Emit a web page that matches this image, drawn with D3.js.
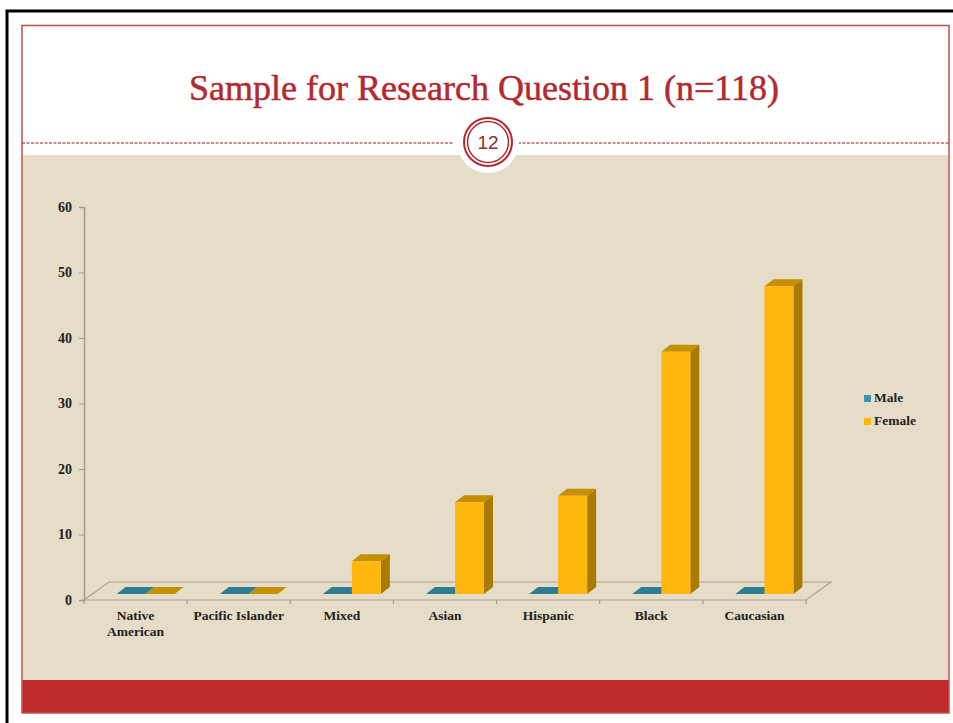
<!doctype html>
<html>
<head>
<meta charset="utf-8">
<title>Sample for Research Question 1</title>
<script src="https://d3js.org/d3.v7.min.js"></script>
<style>
  body { margin:0; background:#fff; }
  svg text { font-family:"Liberation Serif", "DejaVu Serif", serif; }
</style>
</head>
<body>
<svg id="slide" width="953" height="723"></svg>
<script>
// values
const categories = ["Native American", "Pacific Islander", "Mixed", "Asian", "Hispanic", "Black", "Caucasian"];
const male       = [0, 0, 0, 0, 0, 0, 0];
const female     = [0, 0, 5, 14, 15, 37, 47];
const yTicks     = [0, 10, 20, 30, 40, 50, 60];
const seriesNames = ["Male", "Female"];

let svg = d3.select("#slide");

// slide background pieces
svg.append("rect").attr("x", 7).attr("y", 11).attr("width", 960).attr("height", 720)
   .attr("fill", "none").attr("stroke", "#000").attr("stroke-width", 3);
svg.append("rect").attr("x", 22).attr("y", 155).attr("width", 927).attr("height", 525).attr("fill", "#e6ddc9");
svg.append("rect").attr("x", 22).attr("y", 680).attr("width", 927).attr("height", 33).attr("fill", "#c22b2e");
svg.append("rect").attr("x", 22).attr("y", 25.5).attr("width", 927).attr("height", 687.5)
   .attr("fill", "none").attr("stroke", "#c0504d").attr("stroke-width", 1.5);

svg.append("text").attr("x", 484).attr("y", 100).attr("text-anchor", "middle")
   .attr("font-size", 36).attr("fill", "#b22a2e")
   .attr("stroke", "#b22a2e").attr("stroke-width", 0.5)
   .text("Sample for Research Question 1 (n=118)");

// dashed divider + page badge
svg.append("line").attr("x1", 22).attr("x2", 454).attr("y1", 143).attr("y2", 143)
   .attr("stroke", "#8e1a1d").attr("stroke-width", 1).attr("stroke-dasharray", "3,1.5");
svg.append("line").attr("x1", 518).attr("x2", 949).attr("y1", 143).attr("y2", 143)
   .attr("stroke", "#8e1a1d").attr("stroke-width", 1).attr("stroke-dasharray", "3,1.5");
svg.append("circle").attr("cx", 488).attr("cy", 142).attr("r", 31).attr("fill", "#fff");
svg.append("circle").attr("cx", 488).attr("cy", 142).attr("r", 24).attr("fill", "none")
   .attr("stroke", "#b22a2e").attr("stroke-width", 2);
svg.append("circle").attr("cx", 488).attr("cy", 142).attr("r", 20.5).attr("fill", "none")
   .attr("stroke", "#b22a2e").attr("stroke-width", 1.5);
svg.append("text").attr("x", 488).attr("y", 149).attr("text-anchor", "middle")
   .style("font-family", "'Liberation Sans', Arial, sans-serif")
   .attr("font-size", 19).attr("fill", "#8e2a2a").text("12");

// chart
let x = d3.scaleBand().domain(categories).range([84, 806]).padding(0);
let y = d3.scaleLinear().domain([0, 60]).range([600, 207]);

let floorDx = 25, floorDy = -18;   // depth of the floor
let barDx = 9, barDy = -7;         // depth of a bar
let barShift = -6;                 // bars stand a bit back on the floor
let barW = 29;

let chart = svg.append("g");

// floor
let fl = [[x.range()[0], y(0)], [x.range()[1], y(0)],
          [x.range()[1] + floorDx, y(0) + floorDy], [x.range()[0] + floorDx, y(0) + floorDy]];
chart.append("path").attr("d", d3.line()(fl) + "Z")
     .attr("fill", "#e6ddc9").attr("stroke", "#a8a398").attr("stroke-width", 1.2);

// y axis
let yAxis = d3.axisLeft(y).tickValues(yTicks).tickSize(5).tickPadding(7);
let ga = chart.append("g").attr("transform", "translate(84,0)").call(yAxis);
ga.attr("font-size", null).attr("font-family", null);
ga.select(".domain").attr("stroke", "#a09a90").attr("stroke-width", 1.5);
ga.selectAll(".tick line").attr("stroke", "#a09a90");
ga.selectAll("text").style("font-family", "'Liberation Serif', serif")
  .style("font-size", "14px").style("font-weight", "bold").attr("fill", "#222");

// x axis ticks at band edges
let edges = categories.map(c => x(c)).concat([x.range()[1]]);
chart.selectAll(".xt").data(edges).enter().append("line")
     .attr("x1", d => d).attr("x2", d => d).attr("y1", y(0)).attr("y2", y(0) + 4)
     .attr("stroke", "#a09a90").attr("stroke-width", 1.2);

// category labels
let labels = chart.selectAll(".cat").data(categories).enter().append("text")
     .attr("x", d => x(d) + x.bandwidth() / 2).attr("y", 620)
     .attr("text-anchor", "middle").attr("font-size", 13.5).attr("font-weight", "bold").attr("fill", "#222");
labels.each(function(d) {
  let words = d === "Native American" ? ["Native", "American"] : [d];
  d3.select(this).selectAll("tspan").data(words).enter().append("tspan")
    .attr("x", x(d) + x.bandwidth() / 2).attr("dy", (w, i) => i ? 16 : 0).text(w => w);
});

// 3d bar helper
function bar3d(g, x0, v, front, side, top, flat) {
  let yb = y(0) + barShift, yt = y(v) + barShift;
  if (v > 0) {
    g.append("path").attr("d", d3.line()([[x0 + barW, yb], [x0 + barW + barDx, yb + barDy],
        [x0 + barW + barDx, yt + barDy], [x0 + barW, yt]]) + "Z").attr("fill", side);
    g.append("path").attr("d", d3.line()([[x0, yt], [x0 + barW, yt],
        [x0 + barW + barDx, yt + barDy], [x0 + barDx, yt + barDy]]) + "Z").attr("fill", top);
    g.append("rect").attr("x", x0).attr("y", yt).attr("width", barW).attr("height", yb - yt).attr("fill", front);
  } else {
    g.append("path").attr("d", d3.line()([[x0, yb], [x0 + barW, yb],
        [x0 + barW + barDx, yb + barDy], [x0 + barDx, yb + barDy]]) + "Z").attr("fill", flat);
  }
}

let bars = chart.append("g");
categories.forEach((c, i) => {
  let xc = x(c) + x.bandwidth() / 2;
  bar3d(bars, xc - 19, male[i], "#31859c", "#215a6a", "#2a7387", "#2e7d92");
  bar3d(bars, xc + 10, female[i], "#ffb70f", "#a87a00", "#c49000", "#c39000");
});

// legend
let legColors = ["#3a95b0", "#ffb800"];
let leg = svg.append("g").selectAll("g").data(seriesNames).enter().append("g")
   .attr("transform", (d, i) => "translate(864," + (395 + i * 23) + ")");
leg.append("rect").attr("width", 7).attr("height", 7).attr("fill", (d, i) => legColors[i]);
leg.append("text").attr("x", 10).attr("y", 7).attr("font-size", 13.5).attr("font-weight", "bold")
   .attr("fill", "#222").text(d => d);
</script>
</body>
</html>
